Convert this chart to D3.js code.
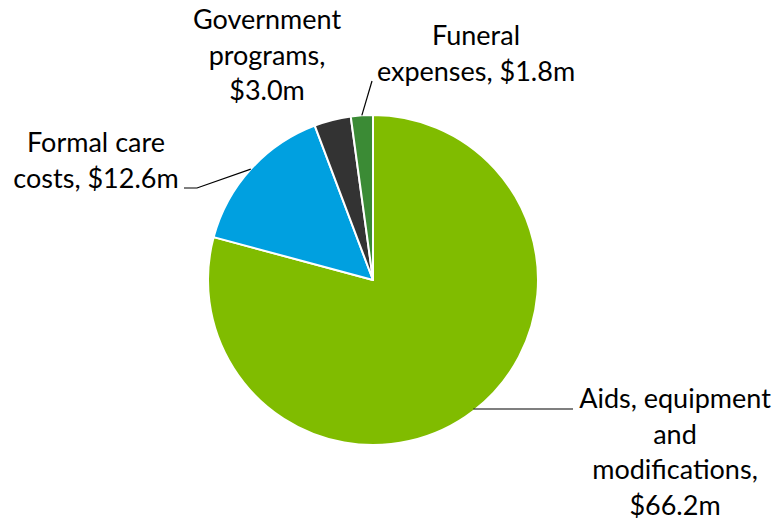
<!DOCTYPE html>
<html>
<head>
<meta charset="utf-8">
<script src="https://cdn.jsdelivr.net/npm/d3@7"></script>
<style>
  html, body { margin: 0; padding: 0; background: #ffffff; }
  svg { display: block; }
  text { font-family: Lato, "Open Sans", sans-serif; fill: #000; }
</style>
</head>
<body>
<div id="chart"></div>
<script>
// ---- data ----
const categories = ["Aids, equipment and modifications", "Formal care costs", "Government programs", "Funeral expenses"];
const values = [66.2, 12.6, 3.0, 1.8];
const valueLabels = ["$66.2m", "$12.6m", "$3.0m", "$1.8m"];
const labelLines = [
  ["Aids, equipment", "and", "modifications,", "$66.2m"],
  ["Formal care", "costs, $12.6m"],
  ["Government", "programs,", "$3.0m"],
  ["Funeral", "expenses, $1.8m"]
];
const colors = ["#80bc00", "#00a0e0", "#333333", "#3b8b35"];

// ---- layout ----
const W = 782, H = 526;
const cx = 373, cy = 280, R = 165;
const fontSize = 27, lineH = 35.5;
const labelPos = [
  { x: 675, y: 408, leader: [[573, 409]] },
  { x: 96, y: 152, leader: [[197, 188], [184, 188]] },
  { x: 267, y: 29, leader: null },
  { x: 476, y: 45, leader: [[372, 81]] }
];

const svg = d3.select("#chart").append("svg")
  .attr("width", W).attr("height", H);

const pie = d3.pie().sort(null).value(d => d)
  .startAngle(0).endAngle(2 * Math.PI);
const arcs = pie(values);

const arc = d3.arc().innerRadius(0).outerRadius(R);

const g = svg.append("g").attr("transform", `translate(${cx},${cy})`);
g.selectAll("path.slice").data(arcs).enter().append("path")
  .attr("class", "slice")
  .attr("d", arc)
  .attr("fill", (d, i) => colors[i])
  .attr("stroke", "#ffffff")
  .attr("stroke-width", 2)
  .attr("stroke-linejoin", "round");

// leader lines
arcs.forEach((a, i) => {
  const lp = labelPos[i];
  if (!lp.leader) return;
  const mid = (a.startAngle + a.endAngle) / 2;
  const sx = cx + R * Math.sin(mid), sy = cy - R * Math.cos(mid);
  let pts;
  if (i === 0) {
    pts = [[sx, lp.leader[0][1]], lp.leader[0]];
  } else {
    pts = [[sx, sy]].concat(lp.leader);
  }
  svg.append("path")
    .attr("d", d3.line()(pts))
    .attr("fill", "none")
    .attr("stroke", "#000")
    .attr("stroke-width", 1.2);
});

// labels
labelLines.forEach((lines, i) => {
  const lp = labelPos[i];
  const t = svg.append("text")
    .attr("text-anchor", "middle")
    .attr("font-size", fontSize);
  lines.forEach((ln, j) => {
    t.append("tspan").attr("x", lp.x).attr("y", lp.y + j * lineH).text(ln);
  });
});
</script>
</body>
</html>
